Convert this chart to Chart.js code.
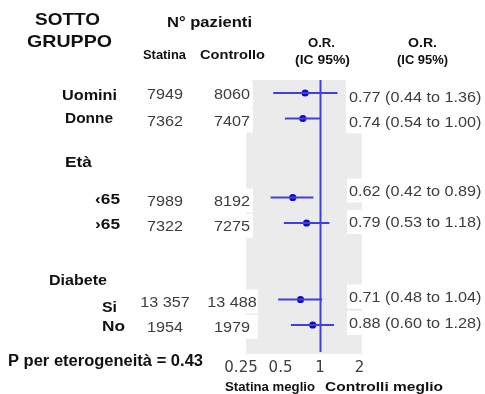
<!DOCTYPE html>
<html>
<head>
<meta charset="utf-8">
<script src="https://cdn.jsdelivr.net/npm/chart.js@4/dist/chart.umd.min.js"></script>
<style>
  html, body { margin: 0; padding: 0; background: #fff; }
  #forest { display: block; }
</style>
</head>
<body>
<canvas id="forest" width="485" height="394"></canvas>
<script>
// ---- data ----
const subgroups   = ['Uomini', 'Donne', '‹65', '›65', 'Si', 'No'];
const statinaN    = ['7949', '7362', '7989', '7322', '13 357', '1954'];
const controlloN  = ['8060', '7407', '8192', '7275', '13 488', '1979'];
const oddsRatio   = [0.77, 0.74, 0.62, 0.79, 0.71, 0.88];
const ciLow       = [0.44, 0.54, 0.42, 0.53, 0.48, 0.60];
const ciHigh      = [1.36, 1.00, 0.89, 1.18, 1.04, 1.28];
const groupTitles = ['Età', 'Diabete'];
const xTicks      = [0.25, 0.5, 1, 2];
const pHeterogeneity = 0.43;

// ---- layout (row slots on the vertical axis, text offsets in px) ----
const rowSlot      = [0, 1, 4.1, 5.1, 8.1, 9.1];
const groupSlot    = [2.7, 7.33];
const labelDy      = [2, -1, 1, 1, 7, 1];
const countDy      = [1, 2, 3, 3, 2, 2];
const orTextDy     = [4, 3, -7, -1, -3, -2];
const labelSpan    = [[62, 117], [65, 113], [95, 120], [95, 120], [102, 117], [102, 125]];
const groupSpan    = [[65, 92], [49, 107]];

const BLUE_LINE = 'rgb(64,64,222)';
const BLUE_DOT  = 'rgb(12,12,200)';
const INK       = '#111';
const GREY_INK  = '#3d3d3d';
const SANS      = '"Liberation Sans", Arial, sans-serif';

// Draw text whose cap-centre sits at yc; sx stretches horizontally.
function drawText(ctx, str, x, yc, size, weight, color, align, sx) {
  ctx.save();
  ctx.font = weight + ' ' + size + 'px ' + SANS;
  ctx.fillStyle = color;
  ctx.textBaseline = 'alphabetic';
  const w = ctx.measureText(str).width * sx;
  let left = x;
  if (align === 'center') left = x - w / 2;
  else if (align === 'right') left = x - w;
  ctx.translate(left, yc + size * 0.36);
  ctx.scale(sx, 1);
  ctx.textAlign = 'left';
  ctx.fillText(str, 0, 0);
  ctx.restore();
}
// Draw text stretched to fill the span x1..x2.
function fitText(ctx, str, x1, x2, yc, size, weight, color) {
  ctx.save();
  ctx.font = weight + ' ' + size + 'px ' + SANS;
  const sx = (x2 - x1) / ctx.measureText(str).width;
  ctx.restore();
  drawText(ctx, str, x1, yc, size, weight, color, 'left', sx);
}

const fmt = v => v.toFixed(2);
const orLabels = oddsRatio.map((v, i) => fmt(v) + ' (' + fmt(ciLow[i]) + ' to ' + fmt(ciHigh[i]) + ')');

const panelPlugin = {
  id: 'panel',
  beforeDraw(chart) {
    const ctx = chart.ctx;
    const y = chart.scales.y;
    ctx.save();
    ctx.fillStyle = '#fff';
    ctx.fillRect(0, 0, chart.width, chart.height);
    // light grey panel behind the plot
    ctx.fillStyle = '#ebebeb';
    ctx.beginPath();
    ctx.moveTo(252, 80); ctx.lineTo(346, 80); ctx.lineTo(346, 132);
    ctx.lineTo(362, 132); ctx.lineTo(362, 354); ctx.lineTo(246, 354);
    ctx.lineTo(246, 132); ctx.lineTo(252, 132);
    ctx.closePath();
    ctx.fill();
    // white boxes behind the numbers
    ctx.fillStyle = '#fff';
    rowSlot.forEach((s, i) => {
      const py = y.getPixelForValue(s);
      ctx.fillRect(205, py + countDy[i] - 12, i >= 4 ? 53 : 48, 24);
      ctx.fillRect(347, py + orTextDy[i] - 12, 138, 24);
    });
    ctx.restore();
  },
  beforeDatasetsDraw(chart) {
    const ctx = chart.ctx;
    const x = chart.scales.x;
    const a = chart.chartArea;
    const px = Math.round(x.getPixelForValue(1)) + 0.5;
    ctx.save();
    ctx.strokeStyle = BLUE_LINE;
    ctx.lineWidth = 2;
    ctx.beginPath();
    ctx.moveTo(px, a.top);
    ctx.lineTo(px, a.bottom);
    ctx.stroke();
    ctx.restore();
  },
  afterDraw(chart) {
    const ctx = chart.ctx;
    const y = chart.scales.y;

    // headers
    fitText(ctx, 'SOTTO', 35, 100, 19, 17, 'bold', INK);
    fitText(ctx, 'GRUPPO', 27, 112, 41, 17, 'bold', INK);
    fitText(ctx, 'N° pazienti', 167, 252, 22, 15, 'bold', INK);
    fitText(ctx, 'Statina', 143, 186, 54, 13, 'bold', INK);
    fitText(ctx, 'Controllo', 200, 265, 54, 13, 'bold', INK);
    fitText(ctx, 'O.R.', 308, 335, 43, 12, 'bold', INK);
    fitText(ctx, '(IC 95%)', 295, 350, 60, 12, 'bold', INK);
    fitText(ctx, 'O.R.', 408, 437, 43, 12, 'bold', INK);
    fitText(ctx, '(IC 95%)', 397, 448, 60, 12, 'bold', INK);

    // group titles
    groupTitles.forEach((t, g) => {
      fitText(ctx, t, groupSpan[g][0], groupSpan[g][1], y.getPixelForValue(groupSlot[g]), 14, 'bold', INK);
    });

    // rows
    subgroups.forEach((name, i) => {
      const py = y.getPixelForValue(rowSlot[i]);
      fitText(ctx, name, labelSpan[i][0], labelSpan[i][1], py + labelDy[i], 15, 'bold', INK);
      drawText(ctx, statinaN[i], 165, py + countDy[i], 15, 'normal', GREY_INK, 'center', 1.08);
      drawText(ctx, controlloN[i], 232, py + countDy[i], 15, 'normal', GREY_INK, 'center', 1.08);
      drawText(ctx, orLabels[i], 349, py + orTextDy[i], 15, 'normal', GREY_INK, 'left', 1.08);
    });

    // footer
    fitText(ctx, 'P per eterogeneità = ' + pHeterogeneity.toFixed(2), 8, 203, 360, 16, 'bold', INK);
    fitText(ctx, 'Statina meglio', 225, 315, 387, 12, 'bold', INK);
    fitText(ctx, 'Controlli meglio', 325, 443, 387, 12, 'bold', INK);
  }
};

const ciDatasets = subgroups.map((name, i) => ({
  label: name,
  data: [{ x: ciLow[i], y: rowSlot[i] }, { x: ciHigh[i], y: rowSlot[i] }],
  showLine: true,
  borderColor: BLUE_LINE,
  borderWidth: 2,
  pointRadius: 0,
  pointHoverRadius: 0
}));

new Chart(document.getElementById('forest'), {
  type: 'scatter',
  data: {
    datasets: [
      ...ciDatasets,
      {
        label: 'O.R.',
        data: oddsRatio.map((v, i) => ({ x: v, y: rowSlot[i] })),
        pointRadius: 3.6,
        pointBackgroundColor: BLUE_DOT,
        pointBorderColor: BLUE_DOT,
        pointBorderWidth: 0
      }
    ]
  },
  options: {
    responsive: false,
    devicePixelRatio: 1,
    animation: false,
    events: [],
    layout: { padding: { left: 230, right: 115, top: 80, bottom: 10 } },
    plugins: { legend: { display: false }, tooltip: { enabled: false } },
    scales: {
      x: {
        type: 'logarithmic',
        min: 0.206,
        max: 2.405,
        grid: { display: false, drawTicks: false },
        border: { display: false },
        afterBuildTicks(scale) { scale.ticks = xTicks.map(v => ({ value: v })); },
        ticks: {
          autoSkip: false,
          maxRotation: 0,
          padding: 7,
          color: '#3d3d3d',
          font: { family: '"DejaVu Sans", sans-serif', size: 15 },
          callback: v => String(v)
        }
      },
      y: {
        type: 'linear',
        reverse: true,
        min: -0.51,
        max: 10.16,
        display: false
      }
    }
  },
  plugins: [panelPlugin]
});
</script>
</body>
</html>
